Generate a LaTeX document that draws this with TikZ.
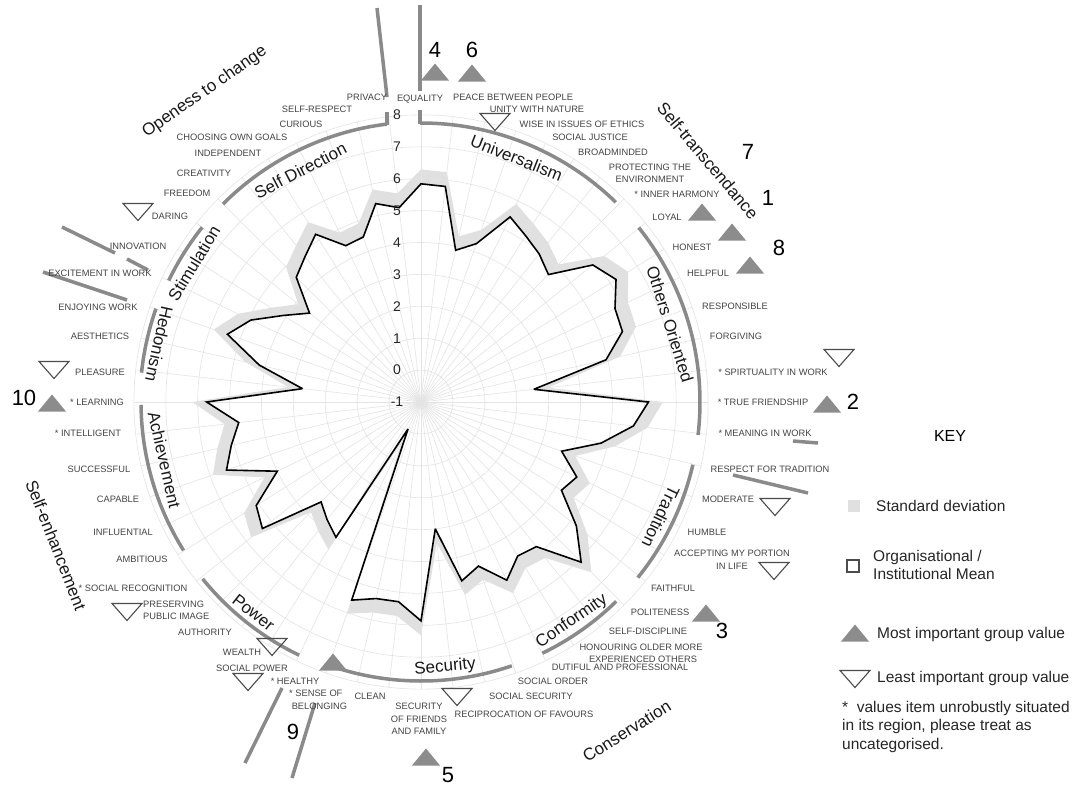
\documentclass[tikz,border=0pt]{standalone}
\usepackage{fontspec}
\setmainfont{Liberation Sans}

\definecolor{gridgrey}{HTML}{E4E4E4}
\definecolor{sdgrey}{HTML}{E0E0E0}
\definecolor{arcgrey}{HTML}{8A8A8A}
\definecolor{itemgrey}{HTML}{444444}
\definecolor{markgrey}{HTML}{8C8C8C}

\newcommand{\itemsize}{\fontsize{9.3}{12.5}\selectfont}
\newcommand{\regionsize}{\fontsize{17}{17}\selectfont}
\newcommand{\bignumsize}{\fontsize{22}{22}\selectfont}
\newcommand{\keysize}{\fontsize{15.5}{18.5}\selectfont}

\tikzset{
  item/.style={font=\itemsize, text=itemgrey, inner sep=0pt, align=center},
  region/.style={draw=arcgrey, line width=3.5pt},
  regionlabel/.style={font=\regionsize, text=black!90, inner sep=0pt},
  bignum/.style={font=\bignumsize, inner sep=0pt},
  keytext/.style={font=\keysize, text=black!85, inner sep=0pt, anchor=west, align=left},
  most/.pic={\fill[markgrey] (-14,-8.5) -- (14,-8.5) -- (0,8.5) -- cycle;},
  least/.pic={\draw[black!70, line width=1.1pt] (-15,8.5) -- (15,8.5) -- (0,-8.5) -- cycle;}
}

\begin{document}
\begin{tikzpicture}[x=1pt,y=1pt]
\useasboundingbox (0,0) rectangle (1083,-785);
\fill[white] (0,0) rectangle (1083,-785);

% radar: 56 values, clockwise from the top
\begin{scope}[shift={(421,-402)}]
  \foreach \v [count=\i from 0] in {5.84,5.80,3.88,4.26,5.44,5.16,4.94,4.65,5.89,6.22,5.75,5.69,4.95,2.56,
      6.13,5.70,4.79,3.67,4.42,4.20,5.23,6.10,4.80,4.70,5.20,4.45,4.75,3.00,
      5.86,5.30,5.32,5.58,-0.06,4.01,3.72,3.43,5.36,5.10,4.00,5.46,5.10,4.75,
      5.72,2.74,4.20,5.43,4.92,4.10,3.47,4.53,4.83,5.21,4.44,4.48,5.38,5.13}
  {
    \coordinate (m\i) at ({90-\i*6.428571}:{(\v+1)*31.9});
    \coordinate (s\i) at ({90-\i*6.428571}:{(\v+1.45)*31.9});
  }
  \fill[sdgrey, even odd rule] (s0) \foreach \i in {1,...,55}{ -- (s\i)} -- cycle
    (m0) \foreach \i in {1,...,55}{ -- (m\i)} -- cycle;
  \foreach \r in {1,...,9}
    \draw[gridgrey, line width=0.6pt] (0,0) circle (\r*31.9);
  \foreach \i in {0,...,55}
    \draw[gridgrey, line width=0.6pt] (0,0) -- ({90-\i*6.428571}:287.1);
  \draw[black, line width=1.6pt, line join=miter, miter limit=3] (m0) \foreach \i in {1,...,55}{ -- (m\i)} -- cycle;

  % value regions
  \draw[region] (90.2:279) arc[start angle=90.2, end angle=45.7, radius=279];
  \draw[region] (38.7:279) arc[start angle=38.7, end angle=-6.8, radius=279];
  \draw[region] (-13:279) arc[start angle=-13, end angle=-39, radius=279];
  \draw[region] (-45.6:279) arc[start angle=-45.6, end angle=-64.2, radius=279];
  \draw[region] (-71:279) arc[start angle=-71, end angle=-109.5, radius=279];
  \draw[region] (-115.7:281) arc[start angle=-115.7, end angle=-141, radius=281];
  \draw[region] (212:280) arc[start angle=212, end angle=180.6, radius=280];
  \draw[region] (174:281) arc[start angle=174, end angle=160.6, radius=281];
  \draw[region] (154.3:280) arc[start angle=154.3, end angle=141.4, radius=280];
  \draw[region] (135:280) arc[start angle=135, end angle=97, radius=280];

  \node[regionlabel, rotate=-21.4] (universalism) at (68.6:262) {Universalism};
  \node[regionlabel, rotate=27.5] (selfdirection) at (117.5:261) {Self Direction};
  \node[regionlabel, rotate=58.6] (stimulation) at (148.6:266) {Stimulation};
  \node[regionlabel, rotate=-72.6] (othersoriented) at (17.4:261) {Others Oriented};
  \node[regionlabel, rotate=-115.6] (traditionlabel) at (-25.6:266) {Tradition};
  \node[regionlabel, rotate=34.5] (conformity) at (-55.5:266) {Conformity};
  \node[regionlabel, rotate=5.2] (security) at (-84.8:266) {Security};
  \node[regionlabel, rotate=-38.5] (power) at (231.5:269) {Power};
  \node[regionlabel, rotate=-77.3] (achievement) at (192.7:263) {Achievement};
  \node[regionlabel, rotate=-102.5] (hedonism) at (167.5:268) {Hedonism};

  \node[regionlabel, rotate=34.9] (openness) at (124.9:378) {Openess to change};
  \node[regionlabel, rotate=-49.9] (transcendence) at (40.1:375) {Self-transcendance};
  \node[regionlabel, rotate=32] (conservation) at (-58:388) {Conservation};
  \node[regionlabel, rotate=-68.6] (enhancement) at (201.4:392) {Self-enhancement};
\end{scope}

% scale
\foreach \v [count=\i] in {-1,...,8}
  \node[font=\fontsize{14}{14}\selectfont, text=black!85, inner sep=0pt] (lv\i) at (397,{-402+(\v+1)*31.9}) {\v};

% region ends and boundaries
\draw[region] (420,-5) -- (420,-91);
\draw[region] (420,-110) -- (420,-124);
\draw[region] (377,-8) -- (387,-97);
\draw[region] (387,-112) -- (387,-125);
\draw[region] (793,-441) -- (818,-443);
\draw[region] (733,-475) -- (808,-493);
\draw[region] (282,-688) -- (245,-763);
\draw[region] (315,-703) -- (292,-778);
\draw[region] (62,-227) -- (115,-253);
\draw[region] (127,-259) -- (148,-270);
\draw[region] (43,-272) -- (127,-300);

% value items
\node[item] (privacy) at (367,-97) {PRIVACY};
\node[item] (selfrespect) at (317,-109) {SELF-RESPECT};
\node[item] (curious) at (301,-124) {CURIOUS};
\node[item] (goals) at (232,-137) {CHOOSING OWN GOALS};
\node[item] (independent) at (228,-153) {INDEPENDENT};
\node[item] (creativity) at (204,-173) {CREATIVITY};
\node[item] (freedom) at (187,-193) {FREEDOM};
\node[item] (daring) at (170,-216) {DARING};
\node[item] (innovation) at (138,-246) {INNOVATION};
\node[item] (excitement) at (100,-273) {EXCITEMENT IN WORK};
\node[item] (enjoying) at (98,-307) {ENJOYING WORK};
\node[item] (aesthetics) at (100,-336) {AESTHETICS};
\node[item] (pleasure) at (100,-372) {PLEASURE};
\node[item] (learning) at (97,-402) {* LEARNING};
\node[item] (intelligent) at (88,-433) {* INTELLIGENT};
\node[item] (successful) at (99,-469) {SUCCESSFUL};
\node[item] (capable) at (118,-499) {CAPABLE};
\node[item] (influential) at (123,-532) {INFLUENTIAL};
\node[item] (ambitious) at (142,-559) {AMBITIOUS};
\node[item] (recognition) at (133,-588) {* SOCIAL RECOGNITION};
\node[item, align=left, anchor=west] (image) at (143,-610.5) {PRESERVING\\PUBLIC IMAGE};
\node[item] (authority) at (205,-632) {AUTHORITY};
\node[item] (wealth) at (242,-652) {WEALTH};
\node[item] (socialpower) at (252,-668) {SOCIAL POWER};
\node[item] (healthy) at (295,-681) {* HEALTHY};
\node[item, align=left, anchor=west] (belonging) at (289,-700) {* SENSE OF\\ \ BELONGING};
\node[item] (clean) at (370,-696) {CLEAN};
\node[item] (friends) at (419,-719) {SECURITY\\OF FRIENDS\\AND FAMILY};
\node[item] (favours) at (524,-714) {RECIPROCATION OF FAVOURS};
\node[item] (socialsecurity) at (531,-696) {SOCIAL SECURITY};
\node[item] (socialorder) at (553,-681) {SOCIAL ORDER};
\node[item] (dutiful) at (620,-667) {DUTIFUL AND PROFESSIONAL};
\node[item] (honouring) at (641,-647) {HONOURING OLDER MORE};
\node[item] (experienced) at (643,-659) {EXPERIENCED OTHERS};
\node[item] (discipline) at (648,-631) {SELF-DISCIPLINE};
\node[item] (politeness) at (660,-612) {POLITENESS};
\node[item] (faithful) at (673,-588) {FAITHFUL};
\node[item] (accepting) at (732,-559.5) {ACCEPTING MY PORTION\\IN LIFE};
\node[item] (humble) at (707,-532) {HUMBLE};
\node[item] (moderate) at (728,-499) {MODERATE};
\node[item] (tradition) at (770,-469) {RESPECT FOR TRADITION};
\node[item] (meaning) at (765,-433) {* MEANING IN WORK};
\node[item] (friendship) at (763,-402) {* TRUE FRIENDSHIP};
\node[item] (spirituality) at (773,-372) {* SPIRTUALITY IN WORK};
\node[item] (forgiving) at (736,-336) {FORGIVING};
\node[item] (responsible) at (735,-306) {RESPONSIBLE};
\node[item] (helpful) at (708,-273) {HELPFUL};
\node[item] (honest) at (692,-247) {HONEST};
\node[item] (loyal) at (667,-217) {LOYAL};
\node[item] (harmony) at (677,-194) {* INNER HARMONY};
\node[item] (environment) at (650,-173.5) {PROTECTING THE\\ENVIRONMENT};
\node[item] (broadminded) at (613,-152) {BROADMINDED};
\node[item] (justice) at (590,-137) {SOCIAL JUSTICE};
\node[item] (ethics) at (582,-124) {WISE IN ISSUES OF ETHICS};
\node[item] (nature) at (537,-109) {UNITY WITH NATURE};
\node[item] (peace) at (513,-97) {PEACE BETWEEN PEOPLE};
\node[item] (equality) at (420,-99) {EQUALITY};

% group markers
\pic at (435,-72) {most};
\pic at (472,-73) {most};
\pic at (702,-212) {most};
\pic at (732,-232) {most};
\pic at (750,-265) {most};
\pic at (827,-404) {most};
\pic at (706,-613) {most};
\pic at (426,-757) {most};
\pic at (333,-662) {most};
\pic at (52,-403) {most};
\pic at (495,-122) {least};
\pic at (839,-358) {least};
\pic at (775,-507) {least};
\pic at (774,-571) {least};
\pic at (457,-697) {least};
\pic at (127,-612) {least};
\pic at (272,-647) {least};
\pic at (248,-682) {least};
\pic at (138,-212) {least};
\pic at (54,-370) {least};

\node[bignum] (g4) at (435,-50) {4};
\node[bignum] (g6) at (472,-50) {6};
\node[bignum] (g7) at (748,-152) {7};
\node[bignum] (g1) at (768,-198) {1};
\node[bignum] (g8) at (779,-248) {8};
\node[bignum] (g2) at (853,-402) {2};
\node[bignum] (g3) at (722,-631) {3};
\node[bignum] (g5) at (448,-775) {5};
\node[bignum] (g9) at (293,-732) {9};
\node[bignum] (g10) at (24,-398) {10};

% key
\node[font=\fontsize{16}{16}\selectfont, inner sep=0pt] (keyhead) at (950,-436) {KEY};
\node[fill=sdgrey, minimum size=12pt, inner sep=0pt] (keysd) at (854,-506) {};
\node[keytext] (keysdtext) at (876,-506) {Standard deviation};
\node[draw=black!70, line width=1.6pt, minimum size=12pt, inner sep=0pt] (keymean) at (853,-566) {};
\node[keytext] (keymeantext) at (873,-565) {Organisational /\\Institutional Mean};
\pic at (855,-633) {most};
\node[keytext] (keymost) at (877,-634) {Most important group value};
\pic at (855,-679) {least};
\node[keytext] (keyleast) at (877,-678) {Least important group value};
\node[keytext, anchor=north west] (keynote) at (842,-701) {* \ values item unrobustly situated\\in its region, please treat as\\uncategorised.};
\end{tikzpicture}
\end{document}
